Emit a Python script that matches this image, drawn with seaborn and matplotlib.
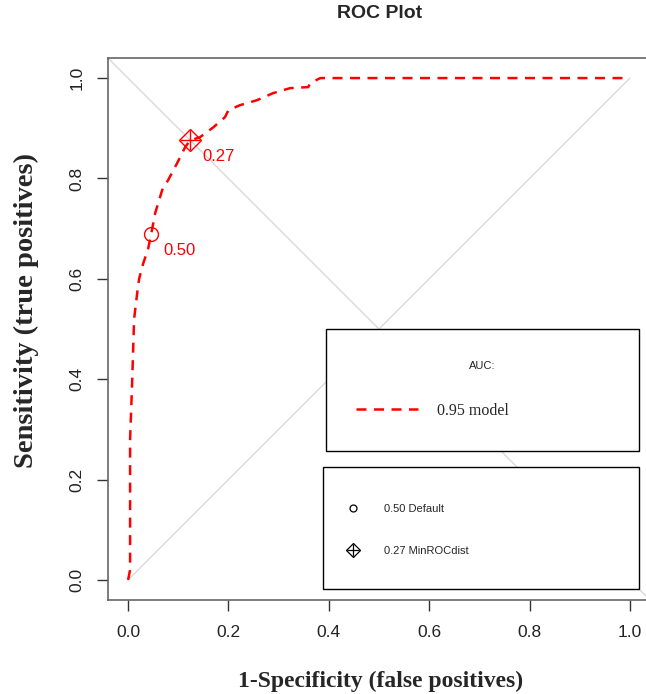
import numpy as np
import pandas as pd
import matplotlib
matplotlib.use("Agg")
import matplotlib.pyplot as plt
import seaborn as sns
from matplotlib.patches import Rectangle
from matplotlib.lines import Line2D

sns.set_style("white")
plt.rcParams["font.family"] = ["Liberation Sans", "DejaVu Sans"]

# ---------- data ----------
fpr = [0.000, 0.004, 0.004, 0.008, 0.012, 0.018, 0.022, 0.030, 0.040, 0.046,
       0.054, 0.068, 0.080, 0.098, 0.114, 0.124, 0.143, 0.170, 0.193, 0.200,
       0.223, 0.257, 0.289, 0.323, 0.359, 0.363, 0.383, 1.000]
tpr = [0.000, 0.020, 0.280, 0.390, 0.520, 0.570, 0.600, 0.630, 0.660, 0.689,
       0.731, 0.777, 0.797, 0.831, 0.863, 0.876, 0.882, 0.902, 0.922, 0.936,
       0.946, 0.956, 0.970, 0.980, 0.982, 0.990, 1.000, 1.000]

cut_names = ["Default", "MinROCdist"]
cut_values = ["0.50", "0.27"]
cut_fpr = [0.046, 0.124]
cut_tpr = [0.689, 0.876]
auc = 0.95
ticks = [0.0, 0.2, 0.4, 0.6, 0.8, 1.0]

roc = pd.DataFrame({"fpr": fpr, "tpr": tpr})

W, H = 646, 694
fig = plt.figure(figsize=(W / 100, H / 100), dpi=100)
ax = fig.add_axes([108 / W, 94 / H, 542 / W, 542 / H])

# reference diagonals
ax.axline((0, 1), slope=-1, color="#d6d6d6", lw=0.9, zorder=1)
ax.plot([0, 1], [0, 1], color="#d6d6d6", lw=0.9, zorder=1)

# ROC curve
sns.lineplot(data=roc, x="fpr", y="tpr", sort=False, estimator=None, ax=ax,
             color="red", lw=1.8, zorder=3)
ax.lines[-1].set_dashes((4, 3))

# cutpoints
ax.plot(cut_fpr[0], cut_tpr[0], marker="o", ms=10, mfc="none", mec="red", mew=1, zorder=4)
ax.plot(cut_fpr[1], cut_tpr[1], marker="D", ms=11, mfc="none", mec="red", mew=1, zorder=4)
ax.plot(cut_fpr[1], cut_tpr[1], marker="+", ms=15, mec="red", mew=1, zorder=4)
for fx, fy, lab in zip(cut_fpr, cut_tpr, cut_values):
    ax.annotate(lab, (fx, fy), xytext=(8.5, -12), textcoords="offset points",
                color="red", fontsize=12, ha="left", va="center")

ax.set_xlim(-0.04, 1.04)
ax.set_ylim(-0.04, 1.04)
ax.set_xticks(ticks)
ax.set_yticks(ticks)
ax.set_xticklabels([f"{t:.1f}" for t in ticks])
ax.set_yticklabels([f"{t:.1f}" for t in ticks], rotation=90, va="center")
ax.tick_params(axis="both", direction="out", length=8, width=1, color="#333333",
               labelsize=12.5, labelcolor="#222222", bottom=True, left=True)
ax.tick_params(axis="x", pad=10)
ax.tick_params(axis="y", pad=9)
for s in ax.spines.values():
    s.set_color("#666666")
    s.set_linewidth(1.2)
ax.set_xlabel("")
ax.set_ylabel("")

# titles and axis labels
fig.text(380 / W, 1 - 14 / H, "ROC Plot", ha="center", va="center",
         fontsize=14, fontweight="bold")
fig.text(381 / W, 1 - 681 / H, "1-Specificity (false positives)", ha="center",
         va="center", fontsize=17, fontweight="bold", family="Liberation Serif")
fig.text(26 / W, 1 - 310 / H, "Sensitivity (true positives)", ha="center",
         va="center", rotation=90, fontsize=20.5, fontweight="bold",
         family="Liberation Serif")

# legend boxes (axes fraction)
def px(x, y):
    return (x - 108) / 542, (600 - y) / 542

x0, y0 = px(326, 451)
x1, y1 = px(639, 329)
ax.add_patch(Rectangle((x0, y0), x1 - x0, y1 - y0, transform=ax.transAxes,
                       fill=True, fc="white", ec="black", lw=1, zorder=5))
ax.text(*px(482, 366), "AUC:", transform=ax.transAxes, ha="center", va="center",
        fontsize=8, zorder=6)
lx0, ly = px(356, 409)
lx1, _ = px(418, 409)
ax.add_line(Line2D([lx0, lx1], [ly, ly], transform=ax.transAxes, color="red",
                   lw=1.8, dashes=(4, 3), zorder=6))
ax.text(*px(437, 411), f"{auc:.2f} model", transform=ax.transAxes, ha="left",
        va="center", fontsize=11.5, family="Liberation Serif", zorder=6)

x0, y0 = px(323, 589)
x1, y1 = px(639, 467)
ax.add_patch(Rectangle((x0, y0), x1 - x0, y1 - y0, transform=ax.transAxes,
                       fill=True, fc="white", ec="black", lw=1, zorder=5))
mx, my0 = px(353, 508)
_, my1 = px(353, 550)
ax.plot(mx, my0, transform=ax.transAxes, marker="o", ms=5, mfc="none", mec="black",
        mew=0.9, zorder=6, clip_on=False)
ax.plot(mx, my1, transform=ax.transAxes, marker="D", ms=7, mfc="none", mec="black",
        mew=0.9, zorder=6, clip_on=False)
ax.plot(mx, my1, transform=ax.transAxes, marker="+", ms=9, mec="black",
        mew=0.9, zorder=6, clip_on=False)
for yy, v, n in zip([509, 551], cut_values, cut_names):
    ax.text(*px(384, yy), f"{v} {n}", transform=ax.transAxes, ha="left",
            va="center", fontsize=8, zorder=6)

fig.savefig("out.png", dpi=100)
